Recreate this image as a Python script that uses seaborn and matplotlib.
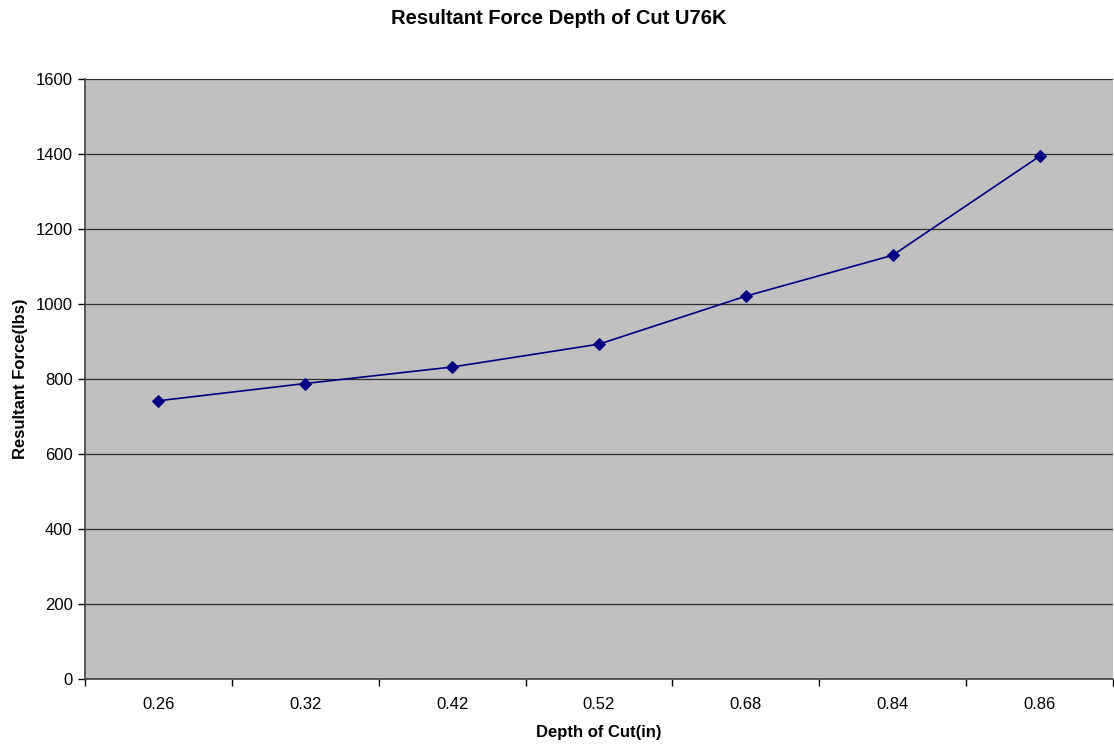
import matplotlib
matplotlib.use("Agg")
import matplotlib.pyplot as plt
import seaborn as sns
import pandas as pd
import numpy as np
from matplotlib.ticker import FixedLocator, NullFormatter

depth_labels = ["0.26", "0.32", "0.42", "0.52", "0.68", "0.84", "0.86"]
resultant_force = [742, 788, 832, 893, 1021, 1130, 1394]

sns.set_theme(style="white")
plt.rcParams['font.family'] = ['Liberation Sans', 'DejaVu Sans']
plt.rcParams['text.color'] = 'black'
plt.rcParams['axes.labelcolor'] = 'black'
plt.rcParams['xtick.color'] = 'black'
plt.rcParams['ytick.color'] = 'black'

df = pd.DataFrame({"pos": np.arange(len(depth_labels)), "force": resultant_force})

fig = plt.figure(figsize=(11.14, 7.5), dpi=100)
ax = fig.add_axes([85/1114, 1 - 679/750, (1113 - 85)/1114, 600/750])
ax.set_facecolor("#C0C0C0")

sns.lineplot(data=df, x="pos", y="force", ax=ax, color="#000080", marker="D",
             markersize=6, markeredgecolor="#000080", linewidth=1.2, zorder=3)

ax.set_xlim(-0.5, len(depth_labels) - 0.5)
ax.set_ylim(0, 1600)
ax.set_yticks(np.arange(0, 1601, 200))
ax.yaxis.grid(True, color="#000000", linewidth=0.9, alpha=0.75)
ax.set_axisbelow(True)

# Category ticks at boundaries, labels at centers
ax.xaxis.set_major_locator(FixedLocator(np.arange(-0.5, len(depth_labels), 1.0)))
ax.xaxis.set_major_formatter(NullFormatter())
ax.xaxis.set_minor_locator(FixedLocator(np.arange(len(depth_labels))))
ax.set_xticklabels(depth_labels, minor=True)
ax.tick_params(axis="x", which="major", direction="out", length=5, width=1, color="#000000", bottom=True)
ax.tick_params(axis="x", which="minor", length=0, labelsize=12, pad=13, bottom=True, labelcolor="black")
ax.tick_params(axis="y", direction="out", length=5, width=1, color="#000000", labelsize=12, pad=4, left=True, labelcolor="black")

for s in ["top", "right"]:
    ax.spines[s].set_visible(False)
for s in ["left", "bottom"]:
    ax.spines[s].set_color("#404040")
    ax.spines[s].set_linewidth(1.2)

ax.set_xlabel("Depth of Cut(in)", fontsize=12, fontweight="bold", labelpad=9, color="black")
ax.set_ylabel("Resultant Force(lbs)", fontsize=12, fontweight="bold", labelpad=5, color="black")
fig.suptitle("Resultant Force Depth of Cut U76K", fontsize=14.5, fontweight="bold",
             x=559/1114, y=1 - 19/750, va="center", color="black")

fig.savefig("out.png", dpi=100, facecolor="white")
